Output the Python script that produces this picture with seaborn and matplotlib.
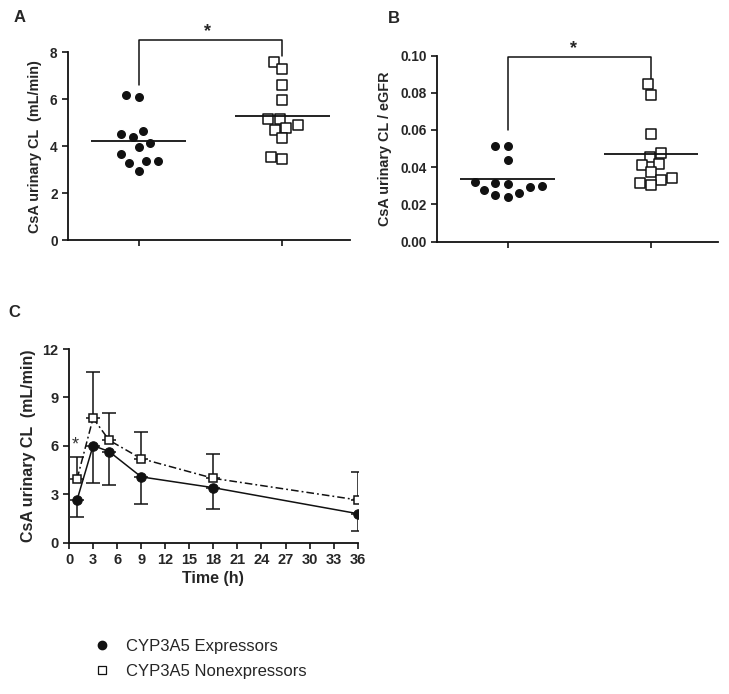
"""CsA urinary clearance by CYP3A5 expressor status (panels A, B, C)."""

import matplotlib

matplotlib.use("Agg")

import matplotlib.pyplot as plt
import numpy as np
import pandas as pd
import seaborn as sns
from matplotlib.lines import Line2D

GROUPS = ["CYP3A5 Expressors", "CYP3A5 Nonexpressors"]

# Panel A: CsA urinary CL (mL/min)
cl_expressors = [6.18, 6.07, 4.53, 4.15, 4.39, 4.66, 3.95, 3.67, 3.36, 3.30, 3.36, 2.96]
cl_nonexpressors = [7.59, 7.28, 6.61, 5.95, 5.17, 5.17, 4.91, 4.69, 4.79, 4.33, 3.47, 3.54]

# Panel B: CsA urinary CL / eGFR
ratio_expressors = [0.0513, 0.0513, 0.0436, 0.0316, 0.0309, 0.0320,
                    0.0293, 0.0298, 0.0260, 0.0276, 0.0251, 0.0241]
ratio_nonexpressors = [0.0847, 0.0790, 0.0578, 0.0474, 0.0452, 0.0409,
                       0.0415, 0.0373, 0.0330, 0.0343, 0.0316, 0.0302]

# Panel C: time course, mean and SD
time_h = [1, 3, 5, 9, 18, 36]
exp_mean = [2.65, 6.02, 5.65, 4.08, 3.41, 1.80]
exp_sd = [1.06, 2.32, 2.09, 1.68, 1.30, 1.08]
nonexp_mean = [3.95, 7.72, 6.35, 5.21, 3.99, 2.65]
nonexp_sd = [1.39, 2.87, 1.66, 1.66, 1.51, 1.72]

INK = "#111111"

sns.set_theme(style="ticks")
plt.rcParams["font.family"] = ["Liberation Sans", "DejaVu Sans"]
plt.rcParams["axes.linewidth"] = 1.3
plt.rcParams["xtick.major.width"] = 1.3
plt.rcParams["ytick.major.width"] = 1.3
plt.rcParams["xtick.major.size"] = 4
plt.rcParams["ytick.major.size"] = 4
plt.rcParams["axes.edgecolor"] = INK

fig = plt.figure(figsize=(7.29, 6.94), dpi=100)
ax_a = fig.add_axes([0.0933, 0.654, 0.387, 0.271])
ax_b = fig.add_axes([0.600, 0.652, 0.385, 0.268])
ax_c = fig.add_axes([0.0947, 0.218, 0.396, 0.279])


def scatter_panel(ax, exp_vals, nonexp_vals, ylim, yticks, ylabel, fmt):
    df_exp = pd.DataFrame({"group": GROUPS[0], "value": exp_vals})
    df_non = pd.DataFrame({"group": GROUPS[1], "value": nonexp_vals})
    # white rim keeps the swarm spacing a little looser than the dots
    sns.swarmplot(data=df_exp, x="group", y="value", order=GROUPS, ax=ax,
                  color=INK, edgecolor="white", linewidth=1.0, marker="o", size=7.5)
    sns.swarmplot(data=df_non, x="group", y="value", order=GROUPS, ax=ax,
                  color="white", edgecolor=INK, linewidth=1.1,
                  marker="s", size=6.8)
    for i, vals in enumerate([exp_vals, nonexp_vals]):
        ax.hlines(np.mean(vals), i - 0.33, i + 0.33, color=INK, lw=1.3, zorder=5)
    ax.set_xlim(-0.49, 1.47)
    ax.set_ylim(*ylim)
    ax.set_yticks(yticks)
    ax.set_yticklabels([fmt.format(t) for t in yticks], fontsize=9.8, fontweight="bold")
    ax.set_xticks([0, 1])
    ax.set_xticklabels([])
    ax.set_xlabel("")
    ax.set_ylabel(ylabel, fontsize=10.4, fontweight="bold", labelpad=6)
    sns.despine(ax=ax)


scatter_panel(ax_a, cl_expressors, cl_nonexpressors, (0, 8), [0, 2, 4, 6, 8],
              "CsA urinary CL  (mL/min)", "{:g}")
ax_a.plot([0, 0, 1, 1], [6.58, 8.5, 8.5, 7.82], color=INK, lw=1.1, clip_on=False)
ax_a.text(0.48, 8.5, "*", ha="center", va="bottom", fontsize=13, fontweight="bold")

scatter_panel(ax_b, ratio_expressors, ratio_nonexpressors, (0, 0.10),
              [0, 0.02, 0.04, 0.06, 0.08, 0.10], "CsA urinary CL / eGFR", "{:.2f}")
ax_b.plot([0, 0, 1, 1], [0.060, 0.0991, 0.0991, 0.0869], color=INK, lw=1.1,
          clip_on=False)
ax_b.text(0.46, 0.0993, "*", ha="center", va="bottom", fontsize=13, fontweight="bold")

# Panel C: one-sided SD bars (down for expressors, up for nonexpressors)
exp_lower = np.array(exp_sd)
nonexp_upper = np.array(nonexp_sd)
ax_c.errorbar(time_h, exp_mean, yerr=[exp_lower, np.zeros_like(exp_lower)],
              fmt="none", ecolor=INK, elinewidth=1.1, capsize=5, capthick=1.1, zorder=2)
ax_c.errorbar(time_h, nonexp_mean, yerr=[np.zeros_like(nonexp_upper), nonexp_upper],
              fmt="none", ecolor=INK, elinewidth=1.1, capsize=5, capthick=1.1, zorder=2)
sns.lineplot(x=time_h, y=exp_mean, ax=ax_c, color=INK, lw=1.1,
             marker="o", markersize=6.8, markeredgecolor=INK, zorder=3)
sns.lineplot(x=time_h, y=nonexp_mean, ax=ax_c, color=INK, lw=1.1,
             dashes=(5, 2, 1.2, 2), marker="s", markersize=6.2, markerfacecolor="white",
             markeredgecolor=INK, markeredgewidth=1.1, zorder=4)
ax_c.set_xlim(0, 36)
ax_c.set_ylim(0, 12)
ax_c.set_xticks(range(0, 37, 3))
ax_c.set_xticklabels([str(t) for t in range(0, 37, 3)], fontsize=10.5, fontweight="bold")
ax_c.set_yticks([0, 3, 6, 9, 12])
ax_c.set_yticklabels(["0", "3", "6", "9", "12"], fontsize=10.5, fontweight="bold")
ax_c.set_xlabel("Time (h)", fontsize=11.5, fontweight="bold", labelpad=3)
ax_c.set_ylabel("CsA urinary CL  (mL/min)", fontsize=11.5, fontweight="bold", labelpad=5)
ax_c.text(0.75, 5.5, "*", ha="center", va="bottom", fontsize=13, color="#333333")
sns.despine(ax=ax_c)

# Panel letters
fig.text(0.018, 0.975, "A", fontsize=12, fontweight="bold", va="center")
fig.text(0.532, 0.973, "B", fontsize=12, fontweight="bold", va="center")
fig.text(0.011, 0.549, "C", fontsize=12, fontweight="bold", va="center")

handles = [
    Line2D([], [], ls="none", marker="o", color=INK, markersize=6),
    Line2D([], [], ls="none", marker="s", markerfacecolor="white",
           markeredgecolor=INK, markersize=6, markeredgewidth=0.9),
]
fig.legend(handles, GROUPS, loc="center left", bbox_to_anchor=(0.106, 0.051),
           frameon=False, fontsize=12, handletextpad=0.8, labelspacing=0.6,
           handlelength=1.2)

fig.savefig("out.png", dpi=100)
